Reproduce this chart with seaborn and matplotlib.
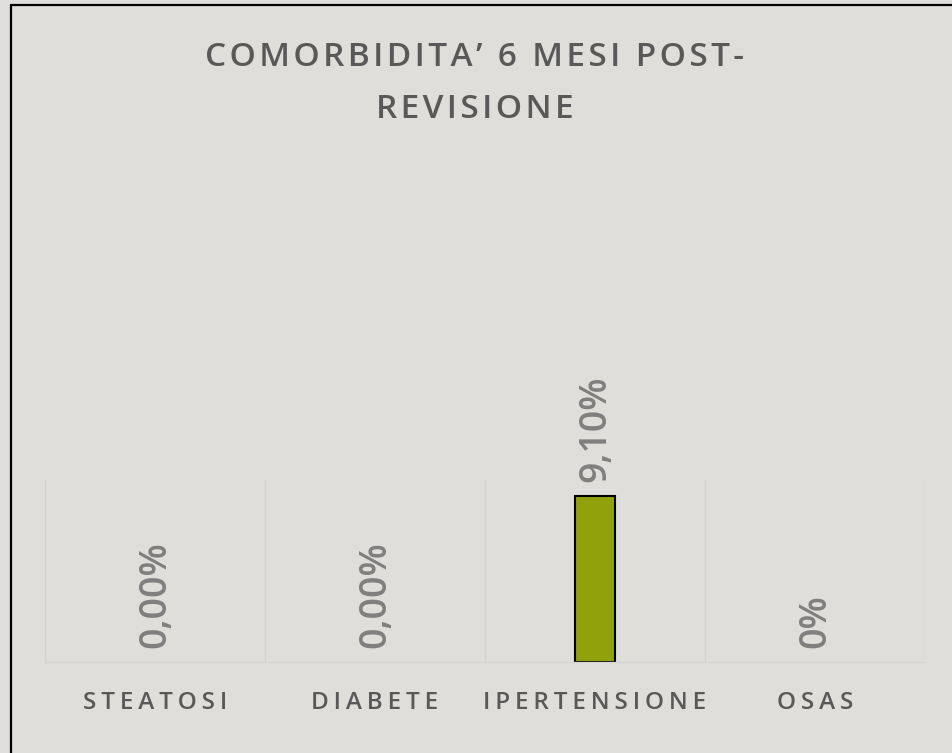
import seaborn as sns
import matplotlib.pyplot as plt
from matplotlib.lines import Line2D

# dati
categories = ["STEATOSI", "DIABETE", "IPERTENSIONE", "OSAS"]
values = [0.0, 0.0, 9.10, 0.0]
value_labels = ["0,00%", "0,00%", "9,10%", "0%"]
title = "COMORBIDITA’ 6 MESI POST-\nREVISIONE"

BG = "#e0deda"
BAR = "#91a10b"
TXT = "#595959"
LBL = "#7f7f7f"
GRID = "#d6d4d0"


def spaced(s, sep="\u2009"):
    # letter spacing fatto a mano
    return "\n".join(sep.join(line) for line in s.split("\n"))


sns.set_theme(style="white")
plt.rcParams["font.family"] = ["Open Sans", "DejaVu Sans"]

fig = plt.figure(figsize=(9.52, 7.53), dpi=100, facecolor=BG)
ax = fig.add_axes([45 / 952, 1 - 662 / 753, 880 / 952, 182 / 753])
ax.set_facecolor(BG)

sns.barplot(x=categories, y=values, color=BAR, width=0.18,
            edgecolor="black", linewidth=1.5, saturation=1, ax=ax)
for p in ax.patches:
    if p.get_height() == 0:
        p.set_linewidth(0)

for i, (v, lab) in enumerate(zip(values, value_labels)):
    ax.annotate(lab, (i, v), xytext=(0, 10), textcoords="offset points",
                rotation=90, ha="center", va="bottom",
                fontsize=27, color=LBL, fontweight="semibold")

ax.set_xlim(-0.5, len(categories) - 0.5)
ax.set_ylim(0, 10)
ax.set_yticks([])
for x in [i - 0.5 for i in range(len(categories) + 1)]:
    ax.axvline(x, color=GRID, lw=1, zorder=0)
for s in ["top", "left", "right"]:
    ax.spines[s].set_visible(False)
ax.spines["bottom"].set_color(GRID)
ax.spines["bottom"].set_linewidth(1)

ax.set_xticks(range(len(categories)))
ax.set_xticklabels([spaced(c) for c in categories], fontsize=17.5,
                   color=TXT, fontweight="semibold")
ax.tick_params(axis="x", length=0, pad=21)
ax.set_xlabel("")
ax.set_ylabel("")

fig.text(0.499, 1 - 41 / 753, spaced(title, "\u200a"), ha="center", va="top",
         fontsize=24, color=TXT, fontweight="semibold", linespacing=1.75)

# cornice
fig.add_artist(Line2D([11 / 952, 11 / 952], [0, 1 - 5 / 753],
                      transform=fig.transFigure, color="black", lw=1.6))
fig.add_artist(Line2D([11 / 952, 1], [1 - 5 / 753, 1 - 5 / 753],
                      transform=fig.transFigure, color="black", lw=1.6))

fig.savefig("out.png", dpi=100, facecolor=BG)
